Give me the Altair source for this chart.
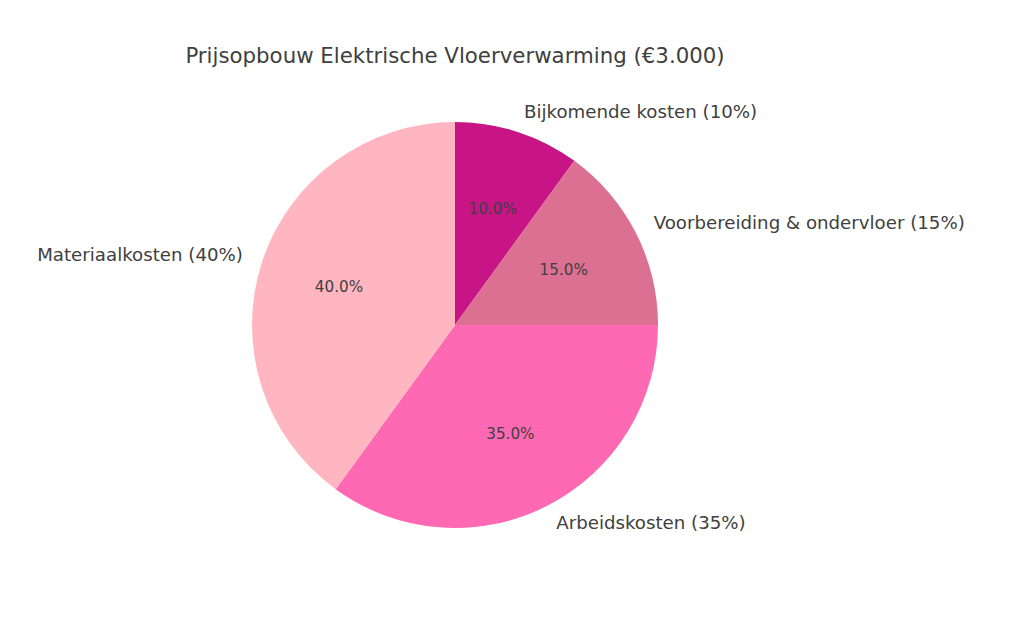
import altair as alt
import pandas as pd

categories = ["Bijkomende kosten", "Voorbereiding & ondervloer", "Arbeidskosten", "Materiaalkosten"]
values = [10, 15, 35, 40]
colors = ["#C71585", "#DB7093", "#FF69B4", "#FFB6C1"]

total = sum(values)
rows = []
cum = 0
for i, (c, v) in enumerate(zip(categories, values)):
    mid = (cum + v / 2) / total
    cum += v
    side = "right" if mid < 0.5 else "left"
    rows.append({
        "cat": c,
        "value": v,
        "order": i,
        "label": f"{c} ({v}%)",
        "pct": f"{v / total * 100:.1f}%",
        "side": side,
    })
df = pd.DataFrame(rows)

FONT = "DejaVu Sans"
TXT = "#404040"

base = alt.Chart(df).encode(
    theta=alt.Theta("value:Q", stack=True),
    order=alt.Order("order:Q"),
)

arcs = base.mark_arc(stroke=None).encode(
    color=alt.Color("cat:N", scale=alt.Scale(domain=categories, range=colors), legend=None),
)

pct = base.mark_text(radius=122, font=FONT, fontSize=15.2, color=TXT).encode(text="pct:N")

lab_right = base.mark_text(radius=223, font=FONT, fontSize=18.2, color=TXT, align="left", baseline="middle").encode(
    text=alt.Text("rlabel:N")
).transform_calculate(rlabel="datum.side == 'right' ? datum.label : ''")

lab_left = base.mark_text(radius=223, font=FONT, fontSize=18.2, color=TXT, align="right", baseline="middle").encode(
    text=alt.Text("llabel:N")
).transform_calculate(llabel="datum.side == 'left' ? datum.label : ''")

chart = alt.layer(arcs, pct, lab_right, lab_left).properties(
    width=406,
    height=406,
    padding={"left": 244, "top": 114, "right": 340, "bottom": 80},
    autosize=alt.AutoSizeParams(type="none"),
    title=alt.TitleParams(
        "Prijsopbouw Elektrische Vloerverwarming (€3.000)",
        font=FONT, fontSize=21.3, fontWeight="normal", color=TXT,
        anchor="middle", frame="group", offset=36,
    ),
).configure_view(stroke=None)

chart.save("out.html", embed_options={"renderer": "svg", "actions": False})
